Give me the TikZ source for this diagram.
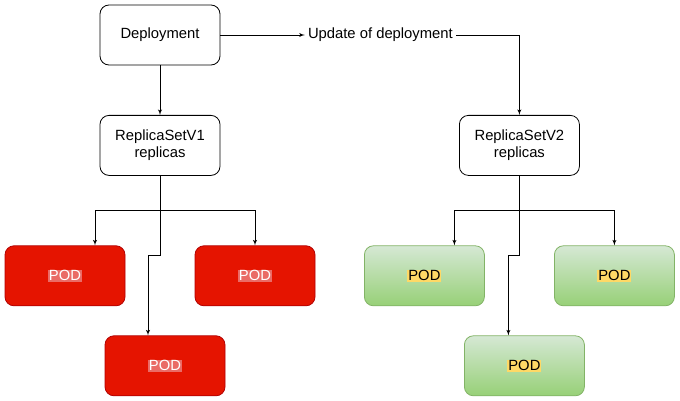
\documentclass[tikz,border=0pt]{standalone}
\usepackage{fontspec}
\setmainfont{Liberation Sans}
\usepackage{tikz}
\usetikzlibrary{arrows,positioning,calc}
\definecolor{podred}{HTML}{E51400}
\definecolor{podredline}{HTML}{B20000}
\definecolor{podredmark}{HTML}{EA6B66}
\definecolor{podgreentop}{HTML}{D5E8D4}
\definecolor{podgreenbot}{HTML}{97D077}
\definecolor{podgreenline}{HTML}{82B366}
\definecolor{podmark}{HTML}{FFD966}
\setlength{\fboxsep}{1pt}
\tikzstyle{box}=[draw, line width=0.8pt, rounded corners=9pt, minimum width=120pt,
minimum height=60pt, text centered, align=center, font=\fontsize{14.8}{17.5}\selectfont]
\tikzstyle{ctrl} = [box, fill=white, draw=black]
\tikzstyle{podOld} = [box, fill=podred, draw=podredline]
\tikzstyle{podNew} = [box, top color=podgreentop, bottom color=podgreenbot, draw=podgreenline]
\tikzstyle{texto} = [inner sep=3pt, font=\fontsize{14.8}{17.5}\selectfont]
\tikzstyle{line} = [draw, line width=0.9pt, color=black, -latex']
\newcommand{\ctrl}[2]{node (#1)[ctrl]{#2}}
\newcommand{\podOld}[1]{node (#1)[podOld]{\colorbox{podredmark}{\color{white}POD}}}
\newcommand{\podNew}[1]{node (#1)[podNew]{\colorbox{podmark}{POD}}}

\begin{document}
\begin{tikzpicture}[x=1pt,y=1pt]
	\useasboundingbox (0,0) rectangle (680,-401);
	
	% Draw diagram elements
	\path (160,-35) \ctrl{dep}{Deployment};
	\path (dep.east)+(160,0) node (upd)[texto]{Update of deployment};
	\path (dep.south)+(0,-80) \ctrl{rsA}{ReplicaSetV1\\replicas};
	\path (rsA.east)+(299,0) \ctrl{rsB}{ReplicaSetV2\\replicas};
	
	\path (rsA.south)+(-95,-100) \podOld{podA1};
	\path (rsA.south)+(95,-100) \podOld{podA2};
	\path (rsA.south)+(5,-190) \podOld{podA3};
	
	\path (rsB.south)+(-95,-100) \podNew{podB1};
	\path (rsB.south)+(95,-100) \podNew{podB2};
	\path (rsB.south)+(5,-190) \podNew{podB3};
	
	% Draw arrows between elements
	\path [line] (dep) -- (rsA);
	\path [line] (dep) -- (upd);
	\path [line] (upd.east) -| (rsB);
	
	\path [line] (rsA.south) -- ++(0,-35) -| ([xshift=30pt]podA1.north);
	\path [line] (rsA.south) -- ++(0,-35) -| (podA2);
	\path [line] (rsA.south) -- ++(0,-80) -| ([xshift=-17pt]podA3.north);
	
	\path [line] (rsB.south) -- ++(0,-35) -| ([xshift=30pt]podB1.north);
	\path [line] (rsB.south) -- ++(0,-35) -| (podB2);
	\path [line] (rsB.south) -- ++(0,-80) -| ([xshift=-16pt]podB3.north);
	
\end{tikzpicture}
\end{document}
